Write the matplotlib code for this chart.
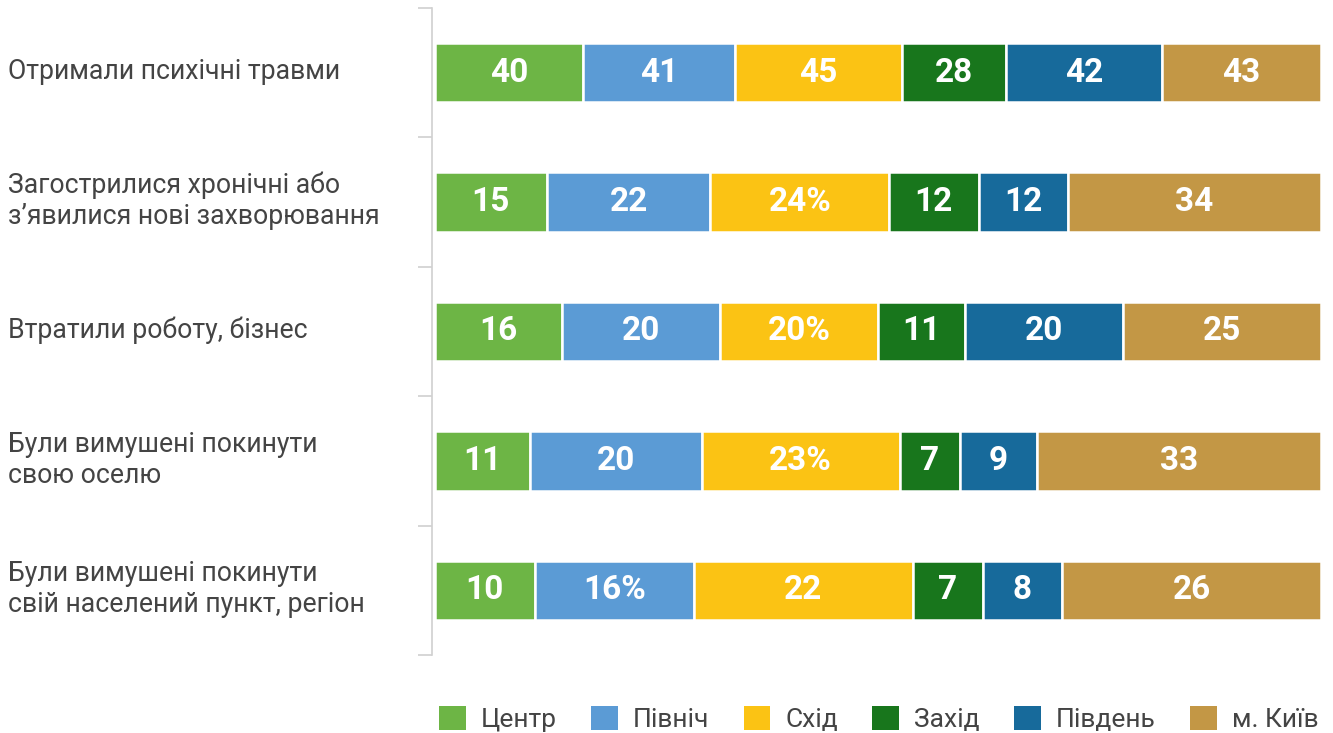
import matplotlib
matplotlib.use("Agg")
import matplotlib.pyplot as plt
from matplotlib.patches import Patch
import numpy as np

plt.rcParams['font.family'] = ['Roboto', 'DejaVu Sans']

# категорії (зверху вниз)
categories = [
    "Отримали психічні травми",
    "Загострилися хронічні або\nз’явилися нові захворювання",
    "Втратили роботу, бізнес",
    "Були вимушені покинути\nсвою оселю",
    "Були вимушені покинути\nсвій населений пункт, регіон",
]

regions = ["Центр", "Північ", "Схід", "Захід", "Південь", "м. Київ"]
colors = ["#6db545", "#5b9bd5", "#fbc314", "#18761c", "#176a9b", "#c39745"]

centr = [40, 15, 16, 11, 10]
pivnich = [41, 22, 20, 20, 16]
skhid = [45, 24, 20, 23, 22]
zakhid = [28, 12, 11, 7, 7]
pivden = [42, 12, 20, 9, 8]
kyiv = [43, 34, 25, 33, 26]

# підписи, де у джерелі стоїть знак %
pct_cells = [(1, 2), (2, 2), (3, 2), (4, 1)]

series = np.array([centr, pivnich, skhid, zakhid, pivden, kyiv], dtype=float)
totals = series.sum(axis=0)
shares = series / totals

fig = plt.figure(figsize=(13.33, 7.33), dpi=100)
ax = fig.add_axes([435 / 1333, 1 - 655 / 733, (1321 - 435) / 1333, (655 - 8) / 733])

y = np.arange(len(categories))
left = np.zeros(len(categories))
for j in range(len(regions)):
    ax.barh(y, shares[j], left=left, height=0.46, color=colors[j],
            edgecolor="white", linewidth=1.8)
    for i in range(len(categories)):
        txt = f"{int(series[j, i])}"
        if (i, j) in pct_cells:
            txt += "%"
        ax.text(left[i] + shares[j, i] / 2, y[i], txt, ha="center", va="center",
                color="white", fontsize=24, fontweight="bold")
    left += shares[j]

ax.set_xlim(0, 1)
ax.set_ylim(len(categories) - 0.5, -0.5)
ax.set_xticks([])
ax.set_yticks(np.arange(-0.5, len(categories), 1.0))
ax.set_yticklabels([])
ax.tick_params(axis="y", length=10, color="#d0d0d0", width=1.2)
for s in ["top", "right", "bottom"]:
    ax.spines[s].set_visible(False)
ax.spines["left"].set_color("#d0d0d0")
ax.spines["left"].set_linewidth(1.2)
ax.spines["left"].set_position(("outward", 2))

for i, cat in enumerate(categories):
    fy = 1 - (7 + (i + 0.5) * (647 / 5)) / 733
    fig.text(8 / 1333, fy, cat, ha="left", va="center", fontsize=19.2,
             color="#444444", linespacing=1.18)

handles = [Patch(facecolor=c, edgecolor="none") for c in colors]
fig.legend(handles, regions, loc="lower right", bbox_to_anchor=(1342 / 1333, -0.031),
           ncol=6, frameon=False, fontsize=19, handlelength=1.02, handleheight=1.02,
           handletextpad=0.57, columnspacing=1.29, labelcolor="#444444")

fig.savefig("out.png", dpi=100)
